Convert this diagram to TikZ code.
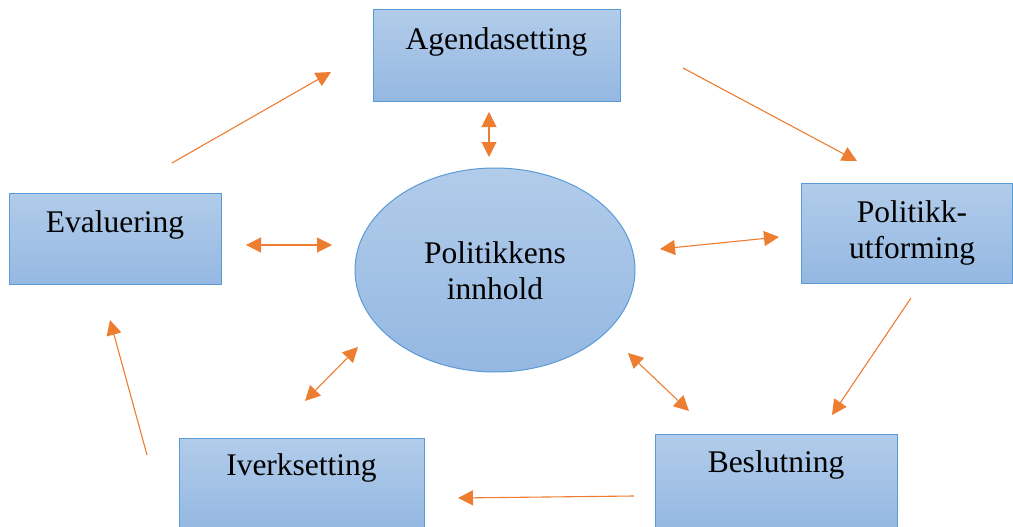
\documentclass[tikz,border=0pt]{standalone}
\usepackage{fontspec}
\setmainfont{Liberation Serif}
\usetikzlibrary{arrows.meta}
\definecolor{boxtop}{RGB}{178,204,234}
\definecolor{boxbot}{RGB}{148,184,226}
\definecolor{boxline}{RGB}{91,155,213}
\definecolor{arr}{RGB}{237,125,49}
\tikzset{
  stagebox/.style={draw=boxline, line width=1pt, top color=boxtop, bottom color=boxbot, rectangle, inner sep=0pt},
  boxtext/.style={font=\fontsize{31.5}{36}\selectfont, align=center},
  flow/.style={draw=arr, line width=1.1pt, -{Triangle[length=15pt,width=15pt]}},
  both/.style={draw=arr, line width=1.1pt, {Triangle[length=15pt,width=15pt]}-{Triangle[length=15pt,width=15pt]}}
}
\begin{document}
\begin{tikzpicture}[x=1pt,y=-1pt]
\useasboundingbox (0,0) rectangle (1013,527);
% boxes
\path[stagebox] (373,10) rectangle (620,102);
\node[boxtext] (agenda) at (496.5,42) {Agendasetting};
\path[stagebox] (9,193) rectangle (221,284);
\node[boxtext] (eval) at (115,225) {Evaluering};
\path[stagebox] (801,183) rectangle (1012,283);
\node[boxtext] (polut) at (912,233) {Politikk-\\utforming};
\path[stagebox] (179,438) rectangle (424,530);
\node[boxtext] (iverk) at (301.5,468) {Iverksetting};
\path[stagebox] (655,434) rectangle (897,530);
\node[boxtext] (beslut) at (776,465) {Beslutning};
% ellipse
\path[draw=boxline, line width=1pt, top color=boxtop, bottom color=boxbot] (495,270) ellipse [x radius=140, y radius=102];
\node[boxtext] (innhold) at (495,271) {Politikkens\\innhold};
% arrow endpoints
\coordinate (a1s) at (172,163); \coordinate (a1e) at (331,72);
\coordinate (a2s) at (683,68);  \coordinate (a2e) at (857,161);
\coordinate (a3s) at (911,298); \coordinate (a3e) at (832,415);
\coordinate (a4s) at (634,496); \coordinate (a4e) at (458,498);
\coordinate (a5s) at (147,455); \coordinate (a5e) at (110,320);
\coordinate (d1s) at (489,112); \coordinate (d1e) at (489,157);
\coordinate (d2s) at (246,245); \coordinate (d2e) at (332,245);
\coordinate (d3s) at (660,249); \coordinate (d3e) at (779,237);
\coordinate (d4s) at (358,347); \coordinate (d4e) at (305,401);
\coordinate (d5s) at (628,353); \coordinate (d5e) at (689,411);
\draw[flow] (a1s) -- (a1e);
\draw[flow] (a2s) -- (a2e);
\draw[flow] (a3s) -- (a3e);
\draw[flow] (a4s) -- (a4e);
\draw[flow] (a5s) -- (a5e);
\draw[both] (d1s) -- (d1e);
\draw[both] (d2s) -- (d2e);
\draw[both] (d3s) -- (d3e);
\draw[both] (d4s) -- (d4e);
\draw[both] (d5s) -- (d5e);
\end{tikzpicture}
\end{document}
